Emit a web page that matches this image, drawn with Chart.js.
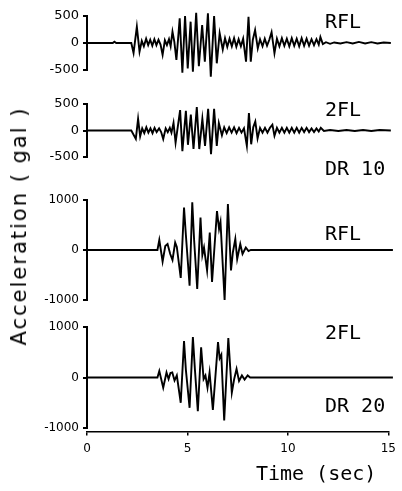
<!DOCTYPE html>
<html>
<head>
<meta charset="utf-8">
<script src="https://cdn.jsdelivr.net/npm/chart.js@4.4.1/dist/chart.umd.min.js"></script>
<style>
  html, body { margin: 0; padding: 0; background: #fff; }
  #wrap { position: relative; width: 402px; height: 491px; overflow: hidden; background: #fff; }
  canvas { position: absolute; left: 0; }
  .tag { position: absolute; left: 325px; font: 20px/20px "DejaVu Sans Mono", monospace; color: #000; white-space: pre; }
  #yTitle {
    position: absolute; left: 19px; top: 226px;
    transform: translate(-50%, -50%) rotate(-90deg);
    font: 21px "DejaVu Sans", sans-serif; letter-spacing: 2px; color: #000; white-space: pre;
  }
</style>
</head>
<body>
<div id="wrap">
  <canvas id="p1" width="402" height="78"  style="top:4px"></canvas>
  <canvas id="p2" width="402" height="77"  style="top:92px"></canvas>
  <canvas id="p3" width="402" height="124" style="top:188px"></canvas>
  <canvas id="p4" width="402" height="125" style="top:315px"></canvas>
  <canvas id="xAxis" width="402" height="121" style="top:370px"></canvas>

  <div class="tag" style="top:11px">RFL</div>
  <div class="tag" style="top:99px">2FL</div>
  <div class="tag" style="top:158px">DR 10</div>
  <div class="tag" style="top:223px">RFL</div>
  <div class="tag" style="top:322px">2FL</div>
  <div class="tag" style="top:395px">DR 20</div>
  <div id="yTitle">Acceleration ( gal )</div>
</div>

<script>
"use strict";

// ── Data: DR 10, roof floor (gal) ─────────────────────────
const dr10RflTime = [
  0, 1.25, 1.33, 1.42, 2.15, 2.26, 2.42, 2.55, 2.66, 2.76,
  2.87, 2.97, 3.07, 3.17, 3.27, 3.37, 3.47, 3.57, 3.67, 3.78,
  3.88, 3.98, 4.06, 4.15, 4.24, 4.34, 4.50, 4.63, 4.76, 4.89,
  5.03, 5.14, 5.30, 5.43, 5.59, 5.72, 5.87, 6.01, 6.17, 6.30,
  6.44, 6.59, 6.70, 6.81, 6.92, 7.03, 7.14, 7.25, 7.36, 7.47,
  7.58, 7.72, 7.84, 7.95, 8.05, 8.16, 8.29, 8.40, 8.52, 8.63,
  8.74, 8.85, 8.96, 9.10, 9.22, 9.34, 9.46, 9.58, 9.70, 9.82,
  9.94, 10.06, 10.18, 10.30, 10.42, 10.54, 10.66, 10.78, 10.90, 11.02,
  11.14, 11.25, 11.33, 11.45, 11.60, 11.80, 12.00, 12.30, 12.60, 12.90,
  13.20, 13.50, 13.80, 14.10, 14.40, 14.75
];
const dr10RflAcc = [
  0, 0, 25, 0, 0, -185, 300, -160, 40, -60,
  80, -40, 60, -50, 70, -40, 60, -30, -220, 50,
  -40, 70, -60, 210, 20, -315, 457, -550, 500, -470,
  395, -530, 560, -430, 333, -346, 550, -624, 500, -376,
  180, -120, 90, -70, 80, -60, 90, -70, 70, -60,
  80, -346, 487, -346, 60, 240, -100, 70, -60, 80,
  -50, 60, 200, -190, 80, -60, 90, -50, 80, -60,
  90, -50, 80, -60, 90, -50, 80, -50, 70, -40,
  70, -30, 110, -20, 15, -15, 10, -10, 15, -10,
  20, -10, 15, -10, 10, 0
];

// ── Data: DR 10, 2nd floor (gal) ──────────────────────────
const dr10SecondTime = [
  0, 2.15, 2.37, 2.48, 2.58, 2.68, 2.78, 2.88, 2.98, 3.08,
  3.18, 3.28, 3.38, 3.50, 3.60, 3.70, 3.82, 3.92, 4.02, 4.10,
  4.20, 4.30, 4.52, 4.63, 4.80, 4.90, 5.04, 5.17, 5.33, 5.45,
  5.60, 5.73, 5.88, 6.02, 6.17, 6.30, 6.40, 6.55, 6.66, 6.78,
  6.90, 7.02, 7.14, 7.26, 7.38, 7.50, 7.62, 7.76, 7.86, 7.97,
  8.07, 8.17, 8.28, 8.40, 8.52, 8.64, 8.76, 8.88, 9.00, 9.10,
  9.22, 9.34, 9.46, 9.58, 9.70, 9.82, 9.94, 10.06, 10.18, 10.30,
  10.42, 10.54, 10.66, 10.78, 10.90, 11.02, 11.14, 11.25, 11.35, 11.50,
  11.8, 12.2, 12.6, 13.0, 13.4, 13.8, 14.2, 14.75
];
const dr10SecondAcc = [
  0, 0, -160, 220, -110, 40, -50, 60, -40, 40,
  -50, 50, -30, 40, -30, -160, 40, -30, 50, -40,
  145, -230, 385, -390, 370, -270, 300, -350, 440, -350,
  220, -290, 410, -445, 410, -290, 140, -90, 60, -50,
  60, -40, 60, -50, 50, -40, 40, -290, 330, -260,
  60, 170, -150, 50, -40, 50, -40, 50, 110, -100,
  50, -40, 50, -40, 50, -40, 50, -40, 50, -40,
  50, -30, 50, -30, 40, -30, 40, -20, 50, -10,
  10, -10, 10, -10, 10, -10, 10, 0
];

// ── Data: DR 20, roof floor (gal) ─────────────────────────
const dr20RflTime = [
  0, 3.42, 3.51, 3.67, 3.80, 3.91, 4.04, 4.15, 4.28, 4.36,
  4.55, 4.71, 4.80, 4.98, 5.11, 5.20, 5.35, 5.51, 5.60, 5.68,
  5.83, 5.96, 6.07, 6.31, 6.41, 6.48, 6.68, 6.84, 6.99, 7.08,
  7.20, 7.29, 7.44, 7.55, 7.71, 7.84, 7.95, 14.85
];
const dr20RflAcc = [
  0, 0, 200, -230, 80, 120, -80, -200, 150, 60,
  -560, 850, 300, -715, 955, 200, -780, 650, -100, 50,
  -410, 350, -640, 780, 420, 560, -1000, 920, -410, -50,
  220, -180, 120, -80, 50, -20, 0, 0
];

// ── Data: DR 20, 2nd floor (gal) ──────────────────────────
const dr20SecondTime = [
  0, 3.42, 3.51, 3.70, 3.86, 3.96, 4.05, 4.14, 4.25, 4.36,
  4.55, 4.71, 4.80, 4.98, 5.14, 5.24, 5.38, 5.54, 5.66, 5.75,
  5.85, 5.95, 6.11, 6.36, 6.44, 6.52, 6.66, 6.86, 7.03, 7.14,
  7.26, 7.38, 7.52, 7.65, 7.80, 7.92, 14.85
];
const dr20SecondAcc = [
  0, 0, 130, -200, 100, -30, 90, 100, -60, 40,
  -500, 720, 150, -600, 800, 150, -665, 600, -30, 40,
  -200, 100, -640, 700, 380, 450, -850, 780, -300, -40,
  170, -70, 40, -40, 40, 0, 0
];

// ── Axis settings ─────────────────────────────────────────
const timeMin   = 0;
const timeMax   = 15;
const timeStep  = 5;
const smallLim  = 500;
const largeLim  = 1000;

// ── Panel builder ─────────────────────────────────────────
function makePanel(id, time, acc, limit, fontSize) {
  return new Chart(document.getElementById(id), {
    type: "line",
    data: {
      datasets: [{
        data: time.map((t, i) => ({ x: t, y: acc[i] })),
        borderColor: "#000",
        borderWidth: 1.9,
        pointRadius: 0,
        tension: 0,
        clip: false,
      }],
    },
    options: {
      responsive: false,
      animation: false,
      events: [],
      layout: { padding: { left: 7, right: 6, top: 12, bottom: 12 } },
      plugins: { legend: { display: false }, tooltip: { enabled: false } },
      scales: {
        x: { type: "linear", min: timeMin, max: timeMax, display: false },
        y: {
          min: -limit,
          max: limit,
          afterFit: s => { s.width = 80; },
          border: { color: "#000", width: 2 },
          grid:   { drawOnChartArea: false, color: "#000", lineWidth: 2, tickLength: 4 },
          ticks:  { stepSize: limit, color: "#000", padding: 4,
                    callback: v => String(v),
                    font: { family: "DejaVu Sans", size: fontSize } },
        },
      },
    },
  });
}

makePanel("p1", dr10RflTime,    dr10RflAcc,    smallLim, 13);
makePanel("p2", dr10SecondTime, dr10SecondAcc, smallLim, 13);
makePanel("p3", dr20RflTime,    dr20RflAcc,    largeLim, 12);
makePanel("p4", dr20SecondTime, dr20SecondAcc, largeLim, 12);

// ── Shared time axis ──────────────────────────────────────
new Chart(document.getElementById("xAxis"), {
  type: "line",
  data: { datasets: [] },
  options: {
    responsive: false,
    animation: false,
    events: [],
    layout: { padding: { left: 87, right: 6, top: 2, bottom: 0 } },
    plugins: { legend: { display: false }, tooltip: { enabled: false } },
    scales: {
      x: {
        type: "linear",
        min: timeMin,
        max: timeMax,
        border: { color: "#000", width: 1.5 },
        grid:   { drawOnChartArea: false, color: "#000", lineWidth: 1.5, tickLength: 4 },
        ticks:  { stepSize: timeStep, color: "#000", padding: 6, maxRotation: 0,
                  font: { family: "DejaVu Sans", size: 12 } },
        title:  { display: true, text: "Time (sec) ", align: "end", color: "#000",
                  padding: { top: 2, bottom: 4 },
                  font: { family: "DejaVu Sans Mono", size: 20 } },
      },
      y: { display: false, min: 0, max: 1 },
    },
  },
});
</script>
</body>
</html>
